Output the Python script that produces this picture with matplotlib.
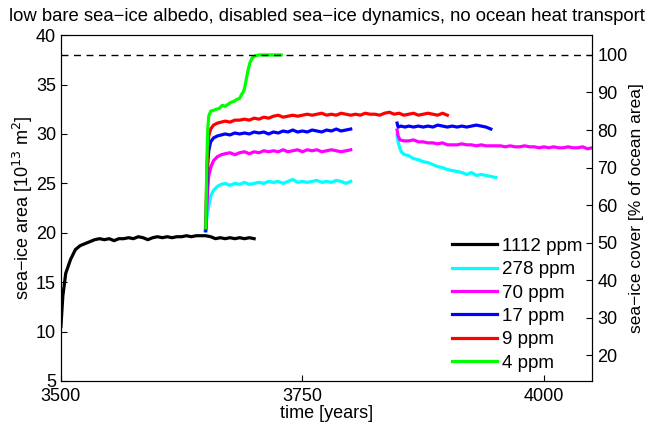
import matplotlib
matplotlib.use("Agg")
import matplotlib.pyplot as plt

plt.rcParams['font.family'] = ['Liberation Sans', 'DejaVu Sans']

# ocean area used for percentage axis [10^13 m^2]
ocean_area = 38.0

# 1112 ppm
t_1112 = [3500, 3502, 3505, 3510, 3515, 3520, 3525, 3530, 3535, 3540, 3545, 3550, 3555, 3560,
          3565, 3570, 3575, 3580, 3585, 3590, 3595, 3600, 3605, 3610, 3615, 3620, 3625, 3630,
          3635, 3640, 3645, 3650, 3655, 3660, 3665, 3670, 3675, 3680, 3685, 3690, 3695, 3700]
a_1112 = [10.5, 13.6, 15.9, 17.3, 18.3, 18.7, 18.9, 19.1, 19.3, 19.4, 19.3, 19.4, 19.2, 19.4,
          19.4, 19.5, 19.4, 19.6, 19.5, 19.3, 19.5, 19.6, 19.5, 19.6, 19.5, 19.6, 19.6, 19.7,
          19.6, 19.7, 19.7, 19.7, 19.6, 19.4, 19.5, 19.4, 19.5, 19.4, 19.5, 19.4, 19.5, 19.4]

# 278 ppm
t_278a = [3649, 3651, 3653, 3655, 3658, 3662, 3666, 3670, 3675, 3680, 3685, 3690, 3695, 3700,
          3705, 3710, 3715, 3720, 3725, 3730, 3735, 3740, 3745, 3750, 3755, 3760, 3765, 3770,
          3775, 3780, 3785, 3790, 3795, 3800]
a_278a = [20.2, 21.5, 22.7, 23.7, 24.3, 24.7, 24.9, 25.0, 24.8, 25.0, 24.9, 25.1, 24.9, 25.0,
          25.1, 25.0, 25.2, 25.1, 25.2, 25.0, 25.2, 25.4, 25.1, 25.2, 25.1, 25.2, 25.3, 25.1,
          25.2, 25.1, 25.3, 25.2, 25.0, 25.2]
t_278b = [3848, 3849, 3851, 3853, 3856, 3860, 3865, 3870, 3875, 3880, 3885, 3890, 3895, 3900,
          3905, 3910, 3915, 3920, 3925, 3930, 3935, 3940, 3945, 3950]
a_278b = [29.9, 29.2, 28.5, 28.1, 27.9, 27.8, 27.5, 27.4, 27.2, 27.1, 26.9, 26.7, 26.6, 26.4,
          26.3, 26.2, 26.1, 25.9, 26.1, 25.8, 25.9, 25.8, 25.7, 25.6]

# 70 ppm
t_70a = [3650, 3651, 3652, 3653, 3655, 3658, 3662, 3666, 3670, 3675, 3680, 3685, 3690, 3695,
         3700, 3705, 3710, 3715, 3720, 3725, 3730, 3735, 3740, 3745, 3750, 3755, 3760, 3765,
         3770, 3775, 3780, 3785, 3790, 3795, 3800]
a_70a = [20.5, 22.5, 24.5, 25.7, 26.6, 27.3, 27.7, 27.9, 28.0, 28.1, 27.9, 28.1, 28.2, 28.0,
         28.2, 28.1, 28.3, 28.2, 28.3, 28.2, 28.4, 28.2, 28.3, 28.4, 28.2, 28.4, 28.3, 28.4,
         28.2, 28.3, 28.4, 28.3, 28.2, 28.3, 28.4]
t_70b = [3848, 3849, 3851, 3855, 3860, 3865, 3870, 3875, 3880, 3885, 3890, 3895, 3900, 3905,
         3910, 3915, 3920, 3925, 3930, 3935, 3940, 3945, 3950, 3955, 3960, 3965, 3970, 3975,
         3980, 3985, 3990, 3995, 4000, 4005, 4010, 4015, 4020, 4025, 4030, 4035, 4040, 4045,
         4050]
a_70b = [30.4, 29.8, 29.4, 29.3, 29.3, 29.4, 29.2, 29.2, 29.1, 29.1, 29.0, 29.1, 28.9, 28.9,
         28.9, 29.0, 28.9, 28.9, 28.8, 28.9, 28.8, 28.8, 28.8, 28.8, 28.7, 28.8, 28.7, 28.7,
         28.8, 28.7, 28.7, 28.6, 28.7, 28.6, 28.7, 28.6, 28.6, 28.7, 28.6, 28.6, 28.7, 28.5,
         28.6]

# 17 ppm
t_17a = [3650, 3651, 3652, 3653, 3655, 3658, 3662, 3666, 3670, 3675, 3680, 3685, 3690, 3695,
         3700, 3705, 3710, 3715, 3720, 3725, 3730, 3735, 3740, 3745, 3750, 3755, 3760, 3765,
         3770, 3775, 3780, 3785, 3790, 3795, 3800]
a_17a = [20.2, 24.5, 27.0, 28.3, 29.2, 29.6, 29.8, 29.9, 30.0, 29.9, 30.1, 30.0, 30.1, 30.0,
         30.2, 30.1, 30.2, 30.0, 30.2, 30.1, 30.3, 30.2, 30.4, 30.2, 30.3, 30.2, 30.4, 30.3,
         30.2, 30.4, 30.3, 30.5, 30.3, 30.4, 30.5]
t_17b = [3848, 3849, 3852, 3856, 3860, 3865, 3870, 3875, 3880, 3885, 3890, 3895, 3900, 3905,
         3910, 3915, 3920, 3925, 3930, 3935, 3940, 3945]
a_17b = [31.1, 30.7, 30.8, 30.7, 30.8, 30.7, 30.8, 30.7, 30.8, 30.7, 30.9, 30.8, 30.7, 30.8,
         30.7, 30.8, 30.7, 30.8, 30.9, 30.8, 30.7, 30.5]

# 9 ppm
t_9 = [3650, 3651, 3652, 3653, 3655, 3658, 3662, 3666, 3670, 3675, 3680, 3685, 3690, 3695,
       3700, 3705, 3710, 3715, 3720, 3725, 3730, 3735, 3740, 3745, 3750, 3755, 3760, 3765,
       3770, 3775, 3780, 3785, 3790, 3795, 3800, 3805, 3810, 3815, 3820, 3825, 3830, 3835,
       3840, 3845, 3850, 3855, 3860, 3865, 3870, 3875, 3880, 3885, 3890, 3895, 3900]
a_9 = [20.5, 26.0, 28.5, 29.8, 30.5, 30.9, 31.1, 31.2, 31.3, 31.2, 31.4, 31.4, 31.5, 31.4,
       31.6, 31.5, 31.7, 31.6, 31.8, 31.9, 31.7, 31.8, 31.9, 31.8, 31.9, 32.0, 31.9, 32.0,
       32.1, 31.9, 32.0, 31.9, 32.1, 32.0, 31.9, 32.0, 31.9, 32.1, 32.0, 32.0, 31.9, 32.1,
       32.2, 32.0, 32.1, 31.9, 32.0, 32.1, 31.9, 32.0, 32.1, 32.0, 31.9, 32.1, 31.9]

# 4 ppm
t_4 = [3650, 3651, 3652, 3653, 3655, 3658, 3661, 3664, 3667, 3670, 3673, 3676, 3679, 3682,
       3685, 3687, 3689, 3690, 3692, 3694, 3696, 3698, 3701, 3705, 3710, 3715, 3720, 3728]
a_4 = [20.5, 27.0, 30.5, 31.8, 32.3, 32.4, 32.5, 32.6, 32.9, 32.8, 33.0, 33.2, 33.3, 33.5,
       33.6, 34.0, 34.3, 34.6, 35.6, 36.6, 37.3, 37.7, 37.9, 38.0, 38.0, 38.0, 38.0, 38.0]

labels = ['1112 ppm', '278 ppm', '70 ppm', '17 ppm', '9 ppm', '4 ppm']
colors = ['black', 'cyan', 'magenta', 'blue', 'red', (0, 1, 0)]

fig = plt.figure(figsize=(6.48, 4.29), dpi=100)
ax = fig.add_axes([0.094, 0.112, 0.82, 0.806])

lw = 2.3
ax.plot(t_1112, a_1112, color=colors[0], lw=lw, label=labels[0])
ax.plot(t_278a, a_278a, color=colors[1], lw=lw, label=labels[1])
ax.plot(t_278b, a_278b, color=colors[1], lw=lw)
ax.plot(t_70a, a_70a, color=colors[2], lw=lw, label=labels[2])
ax.plot(t_70b, a_70b, color=colors[2], lw=lw)
ax.plot(t_17a, a_17a, color=colors[3], lw=lw, label=labels[3])
ax.plot(t_17b, a_17b, color=colors[3], lw=lw)
ax.plot(t_9, a_9, color=colors[4], lw=lw, label=labels[4])
ax.plot(t_4, a_4, color=colors[5], lw=lw, label=labels[5])

ax.axhline(ocean_area, color='black', lw=1, ls=(0, (5, 4)))

ax.set_xlim(3500, 4050)
ax.set_ylim(5, 40)
ax.set_xticks([3500, 3750, 4000])
ax.set_yticks(range(5, 41, 5))
ax.tick_params(direction='in', labelsize=13, length=4, right=False, top=False)
ax.tick_params(axis='x', pad=5)
ax.set_xlabel('time [years]', fontsize=13, labelpad=0)
ax.set_ylabel('sea\u2212ice area [10$^{13}$ m$^2$]', fontsize=13, labelpad=1)
ax.set_title('low bare sea\u2212ice albedo, disabled sea\u2212ice dynamics, no ocean heat transport',
             fontsize=13.3, pad=10)

ax2 = ax.twinx()
ax2.set_ylim(5 / ocean_area * 100, 40 / ocean_area * 100)
ax2.set_yticks(range(20, 101, 10))
ax2.tick_params(direction='in', labelsize=13, length=4)
ax2.set_ylabel('sea\u2212ice cover [% of ocean area]', fontsize=12.5, labelpad=1)

ax.legend(loc='lower right', frameon=False, fontsize=13.5, handlelength=2.4,
          labelspacing=0.33, borderaxespad=0.1, handletextpad=0.3)

fig.savefig('out.png', dpi=100)
